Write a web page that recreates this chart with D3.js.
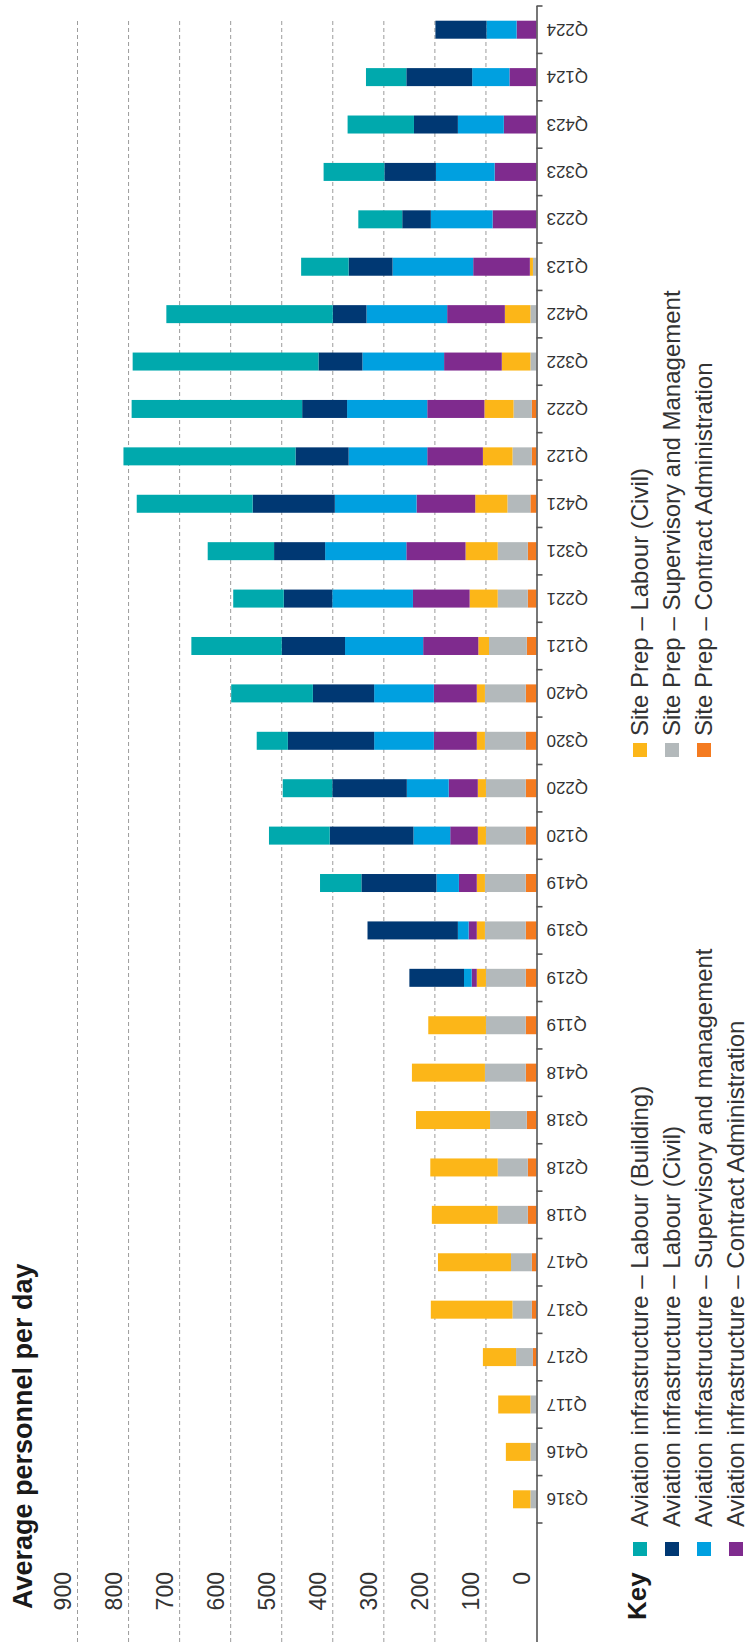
<!DOCTYPE html>
<html><head><meta charset="utf-8">
<script src="https://cdn.jsdelivr.net/npm/d3@7"></script>
<style>html,body{margin:0;padding:0;background:#fff;} svg{display:block;}</style>
</head><body>
<svg id="chart" width="748" height="1642"></svg>
<script>
// ---- data ----
const categories = ["Q316","Q416","Q117","Q217","Q317","Q417","Q118","Q218","Q318","Q418","Q119","Q219","Q319","Q419","Q120","Q220","Q320","Q420","Q121","Q221","Q321","Q421","Q122","Q222","Q322","Q422","Q123","Q223","Q323","Q423","Q124","Q224"];
const siteContractAdmin = [0,0,0,7,9,9,17,17,19,21,21,21,21,21,21,21,21,21,19,17,17,12,9,9,0,0,0,0,0,0,0,0];
const siteSupervisory   = [12,12,12,33,38,41,59,59,72,80,78,78,80,80,78,78,80,80,74,59,59,45,38,36,12,12,7,0,0,0,0,0];
const siteLabourCivil   = [34,48,63,65,160,143,129,132,145,143,113,18,16,16,16,16,16,16,21,55,63,63,58,57,56,50,6,0,0,0,0,0];
const avContractAdmin   = [0,0,0,0,0,0,0,0,0,0,0,10,16,35,54,57,84,84,108,111,116,115,109,112,113,113,111,86,82,64,53,39];
const avSupervisory     = [0,0,0,0,0,0,0,0,0,0,0,15,21,44,72,82,117,117,153,158,159,160,154,157,160,158,158,121,115,90,73,59];
const avLabourCivil     = [0,0,0,0,0,0,0,0,0,0,0,107,177,147,164,146,169,120,124,95,100,161,104,88,86,66,86,56,101,86,129,100];
const avLabourBuilding  = [0,0,0,0,0,0,0,0,0,0,0,0,0,81,119,97,61,160,177,99,130,227,337,334,364,326,93,86,119,130,79,0];
const yTicks = [0,100,200,300,400,500,600,700,800,900];

const seriesNames = ["Site Prep – Contract Administration","Site Prep – Supervisory and Management","Site Prep – Labour (Civil)","Aviation infrastructure – Contract Administration","Aviation infrastructure – Supervisory and management","Aviation infrastructure – Labour (Civil)","Aviation infrastructure – Labour (Building)"];
const seriesColors = ["#f47b20","#b3b9bb","#fcb618","#7f2b8e","#00a0e0","#003873","#00a9ad"];
const seriesValues = [siteContractAdmin, siteSupervisory, siteLabourCivil, avContractAdmin, avSupervisory, avLabourCivil, avLabourBuilding];

const legendCol1 = ["Aviation infrastructure – Labour (Building)","Aviation infrastructure – Labour (Civil)","Aviation infrastructure – Supervisory and management","Aviation infrastructure – Contract Administration"];
const legendCol1Colors = ["#00a9ad","#003873","#00a0e0","#7f2b8e"];
const legendCol2 = ["Site Prep – Labour (Civil)","Site Prep – Supervisory and Management","Site Prep – Contract Administration"];
const legendCol2Colors = ["#fcb618","#b3b9bb","#f47b20"];

const titleText = "Average personnel per day";

// ---- layout (drawn in unrotated frame, then rotated) ----
const W = 1642, H = 748;
const FONT = "'Liberation Sans', Arial, Helvetica, sans-serif";
const svg = d3.select('#chart');
const g = svg.append('g').attr('transform', `translate(0,${W}) rotate(-90)`);

const y = d3.scaleLinear().domain([0, 900]).range([536.5, 77]);
const x = d3.scaleBand().domain(categories).range([119, 1636]).padding(0);
const barW = 18;

// gridlines + value labels
const ya = g.append('g').call(d3.axisRight(y).tickValues(yTicks).tickSize(1623));
ya.attr('font-family', null).attr('font-size', null);
ya.select('.domain').remove();
ya.selectAll('.tick line').attr('stroke', '#9c9c9c').attr('stroke-width', 1).attr('stroke-dasharray', '4,3')
  .filter(d => d === 0).remove();
ya.selectAll('.tick text').attr('x', 70).attr('dy', -7).attr('text-anchor', 'end')
  .attr('font-family', FONT).attr('font-size', 23).attr('fill', '#333');

// stacked bars
const table = categories.map((c, i) => {
  const o = {cat: c};
  seriesNames.forEach((n, k) => o[n] = seriesValues[k][i]);
  return o;
});
const stack = d3.stack().keys(seriesNames)(table);
g.append('g').selectAll('g').data(stack).join('g')
  .attr('fill', (d, i) => seriesColors[i])
  .selectAll('rect').data(d => d).join('rect')
  .attr('x', d => x(d.data.cat) + (x.bandwidth() - barW) / 2)
  .attr('width', barW)
  .attr('y', d => y(d[1]))
  .attr('height', d => Math.max(0, y(d[0]) - y(d[1])));

// category axis
const xa = g.append('g').attr('transform', `translate(0,${y(0)})`).call(d3.axisBottom(x).tickSize(0));
xa.select('.domain').remove();
xa.selectAll('.tick text').attr('transform', 'rotate(-90)').attr('x', -10).attr('y', 0).attr('dy', '0.35em')
  .attr('text-anchor', 'end').attr('font-family', FONT).attr('font-size', 17).attr('fill', '#333');
g.append('line').attr('x1', 0).attr('x2', 1636).attr('y1', y(0) + 0.5).attr('y2', y(0) + 0.5)
  .attr('stroke', '#555').attr('stroke-width', 1.6);
const bounds = categories.map(c => x(c)).concat([x(categories[categories.length - 1]) + x.bandwidth()]);
g.append('g').selectAll('line').data(bounds).join('line')
  .attr('x1', d => d).attr('x2', d => d).attr('y1', y(0)).attr('y2', y(0) + 6)
  .attr('stroke', '#555').attr('stroke-width', 1.6);

// title
g.append('text').attr('x', 33).attr('y', 32).text(titleText)
  .attr('font-family', FONT).attr('font-size', 27).attr('font-weight', 'bold').attr('fill', '#1a1a1a');

// legend
g.append('text').attr('x', 22).attr('y', 646).text('Key')
  .attr('font-family', FONT).attr('font-size', 26).attr('font-weight', 'bold').attr('fill', '#1a1a1a');
const rowY = [640, 672, 704, 736];
const l1 = g.append('g').selectAll('g').data(legendCol1).join('g');
l1.append('rect').attr('x', 86).attr('y', (d, i) => rowY[i] - 7).attr('width', 14).attr('height', 14)
  .attr('fill', (d, i) => legendCol1Colors[i]);
l1.append('text').attr('x', 115).attr('y', (d, i) => rowY[i] + 8).text(d => d)
  .attr('font-family', FONT).attr('font-size', 24).attr('fill', '#333');
const l2 = g.append('g').selectAll('g').data(legendCol2).join('g');
l2.append('rect').attr('x', 885).attr('y', (d, i) => rowY[i] - 7).attr('width', 14).attr('height', 14)
  .attr('fill', (d, i) => legendCol2Colors[i]);
l2.append('text').attr('x', 906).attr('y', (d, i) => rowY[i] + 8).text(d => d)
  .attr('font-family', FONT).attr('font-size', 24).attr('fill', '#333');
</script>
</body></html>
